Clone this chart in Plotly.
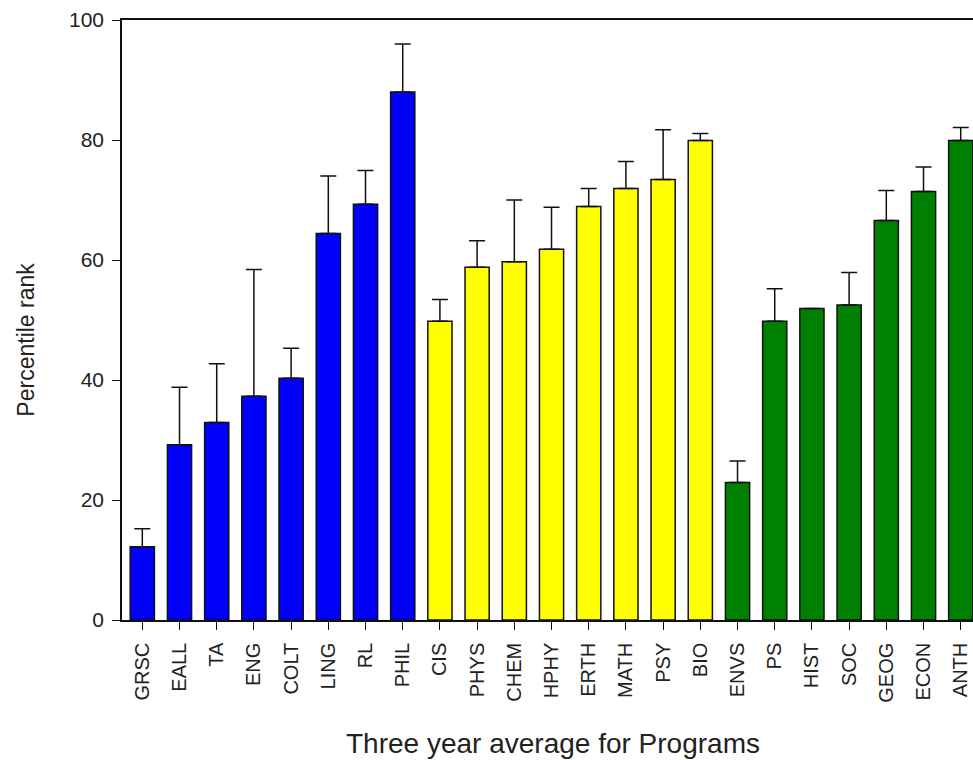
import plotly.graph_objects as go

# Programs, grouped by division
programs = ["GRSC", "EALL", "TA", "ENG", "COLT", "LING", "RL", "PHIL",
            "CIS", "PHYS", "CHEM", "HPHY", "ERTH", "MATH", "PSY", "BIO",
            "ENVS", "PS", "HIST", "SOC", "GEOG", "ECON", "ANTH"]
percentile = [12.2, 29.2, 32.9, 37.3, 40.3, 64.4, 69.3, 88.0,
              49.8, 58.8, 59.7, 61.8, 68.9, 71.9, 73.4, 79.9,
              22.9, 49.8, 51.9, 52.5, 66.6, 71.4, 79.9]
upper_err = [3.0, 9.6, 9.8, 21.1, 5.0, 9.6, 5.6, 8.0,
             3.6, 4.4, 10.3, 7.0, 3.0, 4.5, 8.3, 1.2,
             3.6, 5.4, 0.0, 5.4, 5.0, 4.1, 2.2]
division = ["hum"] * 8 + ["sci"] * 8 + ["soc"] * 7

division_colors = {"hum": "#0000FF", "sci": "#FFFF00", "soc": "#008000"}
bar_colors = [division_colors[d] for d in division]

font_family = "Liberation Sans, Arial, sans-serif"
text_color = "#222222"

fig = go.Figure()
fig.add_trace(go.Bar(
    x=list(range(len(programs))),
    y=percentile,
    width=0.65,
    marker=dict(color=bar_colors, line=dict(color="#111111", width=1.5)),
    error_y=dict(type="data", symmetric=False, array=upper_err,
                 arrayminus=[0] * len(programs),
                 color="#111111", thickness=1.5, width=8),
    showlegend=False,
    hoverinfo="x+y",
))

fig.update_layout(
    width=973, height=760,
    margin=dict(l=122, r=0, t=20, b=140),
    paper_bgcolor="white", plot_bgcolor="white",
    font=dict(family=font_family, color=text_color),
)

fig.update_xaxes(
    range=[-0.546, 22.33],
    tickmode="array",
    tickvals=list(range(len(programs))),
    ticktext=programs,
    tickangle=-90,
    ticks="outside", ticklen=8, tickwidth=1.2, tickcolor="#111111",
    ticklabelstandoff=5,
    tickfont=dict(size=20, family=font_family, color=text_color),
    showline=True, linecolor="#111111", linewidth=1.5, mirror=True,
    showgrid=False, zeroline=False,
)
fig.update_yaxes(
    range=[0, 100],
    tickvals=[0, 20, 40, 60, 80, 100],
    ticks="outside", ticklen=8, tickwidth=1.2, tickcolor="#111111",
    ticklabelstandoff=4,
    tickfont=dict(size=21, family=font_family, color=text_color),
    showline=True, linecolor="#111111", linewidth=1.5,
    showgrid=False, zeroline=False,
)

fig.add_annotation(
    text="Percentile rank", textangle=-90,
    xref="paper", yref="paper", x=-0.113, y=0.467,
    xanchor="center", yanchor="middle", showarrow=False,
    font=dict(size=23, family=font_family, color=text_color),
)
fig.add_annotation(
    text="Three year average for Programs",
    xref="paper", yref="paper", x=0.506, y=-0.205,
    xanchor="center", yanchor="middle", showarrow=False,
    font=dict(size=28, family=font_family, color=text_color),
)

fig.write_html("out.html")
